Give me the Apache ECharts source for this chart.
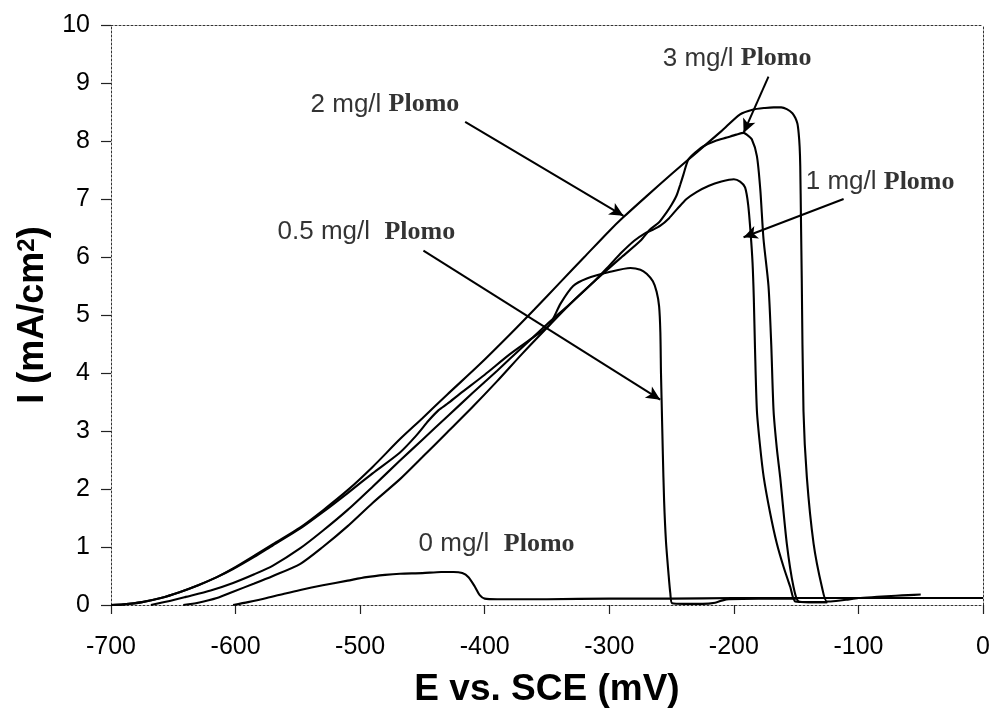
<!DOCTYPE html>
<html>
<head>
<meta charset="utf-8">
<title>Polarización anódica – Plomo</title>
<script src="https://cdn.jsdelivr.net/npm/echarts@6/dist/echarts.min.js"></script>
<style>
  html, body { margin: 0; padding: 0; background: #fff; }
  #chart { width: 994px; height: 713px; }
</style>
</head>
<body>
<div id="chart"></div>
<script>
// Potential (mV vs. SCE) and current density (mA/cm²) for each lead concentration
const E_0 = [-602, -590, -575, -560, -548, -530, -510, -495, -480, -468, -450, -435, -425, -418, -413, -408, -404, -400, -390, -350, -300, -250, -200, -150, -100, -50, 0];
const I_0 = [0, 0.05, 0.12, 0.2, 0.26, 0.34, 0.42, 0.48, 0.52, 0.54, 0.55, 0.57, 0.57, 0.55, 0.48, 0.32, 0.17, 0.11, 0.1, 0.1, 0.11, 0.11, 0.12, 0.12, 0.12, 0.12, 0.12];

const E_05 = [-700, -690, -675, -660, -645, -630, -615, -602, -585, -570, -548, -530, -510, -490, -468, -455, -445, -437, -430, -420, -400, -380, -360, -348, -339, -329, -318, -300, -283, -275, -270, -265, -262, -260, -259, -258.5, -258, -257, -256, -254.5, -252.5, -251, -249.5, -240, -225, -215, -209, -204, -180, -160, -150];
const I_05 = [0, 0.01, 0.05, 0.12, 0.22, 0.34, 0.48, 0.62, 0.83, 1.03, 1.32, 1.6, 1.93, 2.27, 2.63, 2.92, 3.18, 3.36, 3.47, 3.64, 3.97, 4.32, 4.63, 4.83, 5.2, 5.5, 5.63, 5.74, 5.81, 5.78, 5.71, 5.58, 5.4, 5.15, 4.7, 4.0, 3.54, 2.6, 1.8, 1.1, 0.55, 0.2, 0.03, 0.02, 0.02, 0.04, 0.08, 0.1, 0.11, 0.11, 0.11];

const E_1 = [-668, -655, -640, -620, -602, -585, -570, -548, -530, -510, -490, -468, -450, -430, -410, -390, -370, -350, -330, -312, -300, -290, -280, -272, -265, -259, -252, -245, -238, -230, -220, -210, -200, -195, -191, -188.5, -186.5, -185, -184, -183, -181.5, -179, -176, -171, -165.5, -160, -154.7, -150.7, -140, -125];
const I_1 = [0, 0.06, 0.14, 0.25, 0.38, 0.53, 0.68, 0.98, 1.28, 1.64, 2.04, 2.49, 2.85, 3.25, 3.65, 4.04, 4.44, 4.84, 5.22, 5.58, 5.85, 6.08, 6.28, 6.4, 6.47, 6.54, 6.67, 6.84, 7.0, 7.12, 7.23, 7.3, 7.34, 7.3, 7.2, 6.9, 6.4, 5.9, 5.3, 4.4, 3.35, 2.75, 2.2, 1.6, 1.06, 0.65, 0.31, 0.06, 0.05, 0.05];

const E_2 = [-700, -690, -675, -660, -645, -630, -615, -602, -585, -570, -548, -530, -510, -490, -468, -450, -430, -404, -380, -360, -340, -320, -300, -289, -270, -250, -230, -210, -195, -185, -175, -168, -162, -157.5, -153, -150.7, -149, -148, -147.2, -146.7, -146.1, -145.5, -144.1, -141.4, -136, -129.3, -125.3, -118, -110, -100, -85, -70, -60, -50];
const I_2 = [0, 0.01, 0.05, 0.12, 0.22, 0.34, 0.48, 0.63, 0.85, 1.05, 1.34, 1.63, 1.98, 2.38, 2.86, 3.22, 3.63, 4.15, 4.66, 5.1, 5.55, 6.0, 6.45, 6.68, 7.05, 7.43, 7.8, 8.17, 8.46, 8.54, 8.57, 8.58, 8.58, 8.55, 8.48, 8.4, 8.3, 8.14, 7.9, 7.57, 6.6, 5.63, 3.34, 2.2, 1.06, 0.31, 0.06, 0.07, 0.09, 0.12, 0.14, 0.16, 0.17, 0.18];

const E_3 = [-642, -630, -615, -602, -585, -570, -548, -530, -510, -490, -468, -450, -430, -410, -390, -370, -350, -330, -310, -290, -275, -267.5, -260, -254, -250, -246, -243, -240.5, -236.5, -230, -224.4, -215, -205.7, -198, -192.2, -189.6, -185.6, -181.5, -178.8, -176.2, -172.2, -170, -168.1, -165.5, -162.8, -157.5, -152.1, -148, -140, -125];
const I_3 = [0, 0.04, 0.12, 0.23, 0.37, 0.5, 0.71, 1.0, 1.36, 1.76, 2.17, 2.55, 2.98, 3.41, 3.86, 4.33, 4.78, 5.22, 5.62, 6.0, 6.28, 6.47, 6.6, 6.77, 6.9, 7.06, 7.25, 7.42, 7.68, 7.82, 7.91, 8.0, 8.06, 8.11, 8.14, 8.11, 8.03, 7.74, 7.17, 6.31, 5.5, 4.5, 3.34, 2.7, 2.2, 1.06, 0.31, 0.06, 0.05, 0.05];

// Axis ticks
const E_TICKS = [-700, -600, -500, -400, -300, -200, -100, 0];
const I_TICKS = [0, 1, 2, 3, 4, 5, 6, 7, 8, 9, 10];

// Curve annotations: label anchor (left edge), arrow start, arrow tip — all in data units
const LABEL_TEXT = ['0 mg/l', '0.5 mg/l', '1 mg/l', '2 mg/l', '3 mg/l'];
const LABEL_GAP = ['  ', '  ', ' ', ' ', ' '];
const LABEL_AT = [[-453.5, 1.05], [-566.7, 6.43], [-142.7, 7.29], [-540.2, 8.63], [-257.5, 9.42]];
const ARROW_FROM = [null, [-449.2, 6.11], [-111.9, 7.0], [-415.7, 8.33], [-172.2, 9.11]];
const ARROW_TO = [null, [-259.1, 3.54], [-192.2, 6.34], [-288.6, 6.71], [-192.2, 8.14]];

const curves = [[E_0, I_0], [E_05, I_05], [E_1, I_1], [E_2, I_2], [E_3, I_3]];

const chart = echarts.init(document.getElementById('chart'), null, { renderer: 'canvas' });

const sans = '"Liberation Sans", Arial, Helvetica, sans-serif';
const serif = '"Liberation Serif", "Times New Roman", serif';
const borderLine = { show: true, onZero: false, lineStyle: { color: '#333', width: 1, type: [2, 2] } };

const lineSeries = curves.map(([E, I], k) => ({
  name: LABEL_TEXT[k],
  type: 'line',
  xAxisIndex: 0,
  yAxisIndex: 0,
  data: E.map((e, i) => [e, I[i]]),
  showSymbol: false,
  smooth: 0.25,
  lineStyle: { color: '#000', width: 2.1 },
  emphasis: { disabled: true },
  silent: true,
  z: 3
}));

const annotSeries = {
  type: 'scatter',
  xAxisIndex: 0,
  yAxisIndex: 0,
  symbolSize: 1,
  itemStyle: { color: 'transparent' },
  silent: true,
  data: LABEL_AT.map((p, k) => ({
    value: p,
    label: { formatter: '{a|' + LABEL_TEXT[k] + '}{a|' + LABEL_GAP[k] + '}{b|Plomo}' }
  })),
  label: {
    show: true,
    position: 'right',
    distance: 0,
    rich: {
      a: { fontFamily: sans, fontSize: 26, color: '#000' },
      b: { fontFamily: serif, fontSize: 26, fontWeight: 'bold', color: '#000' }
    }
  },
  markLine: {
    silent: true,
    animation: false,
    symbol: ['none', 'arrow'],
    symbolSize: [10, 14],
    label: { show: false },
    lineStyle: { color: '#000', width: 2, type: 'solid' },
    data: ARROW_FROM.map((f, k) => f ? [{ coord: f }, { coord: ARROW_TO[k] }] : null).filter(Boolean)
  },
  z: 5
};

chart.setOption({
  animation: false,
  backgroundColor: '#fff',
  grid: { left: 111, right: 11, top: 25, bottom: 105, containLabel: false },
  xAxis: [{
    type: 'value',
    min: E_TICKS[0],
    max: E_TICKS[E_TICKS.length - 1],
    interval: 100,
    name: 'E vs. SCE (mV)',
    nameLocation: 'middle',
    nameGap: 66,
    nameTextStyle: { fontFamily: sans, fontSize: 37, fontWeight: 'bold', color: '#000' },
    axisLine: borderLine,
    axisTick: { show: true, inside: false, length: 9, lineStyle: { color: '#222', width: 1.2 } },
    axisLabel: { margin: 30, fontFamily: sans, fontSize: 25, color: '#000' },
    splitLine: { show: false }
  }, {
    type: 'value',
    position: 'top',
    min: E_TICKS[0],
    max: E_TICKS[E_TICKS.length - 1],
    axisLine: borderLine,
    axisTick: { show: false },
    axisLabel: { show: false },
    splitLine: { show: false }
  }],
  yAxis: [{
    type: 'value',
    min: I_TICKS[0],
    max: I_TICKS[I_TICKS.length - 1],
    interval: 1,
    name: '{t|I (mA/cm}{s|2}{t|)}',
    nameLocation: 'middle',
    nameRotate: 90,
    nameGap: 53,
    nameTextStyle: {
      rich: {
        t: { fontFamily: sans, fontSize: 36, fontWeight: 'bold', color: '#000' },
        s: { fontFamily: sans, fontSize: 24, fontWeight: 'bold', color: '#000', verticalAlign: 'top' }
      }
    },
    axisLine: borderLine,
    axisTick: { show: true, inside: false, length: 10, lineStyle: { color: '#222', width: 1.2 } },
    axisLabel: { margin: 21, fontFamily: sans, fontSize: 25, color: '#000' },
    splitLine: { show: false }
  }, {
    type: 'value',
    position: 'right',
    min: I_TICKS[0],
    max: I_TICKS[I_TICKS.length - 1],
    axisLine: borderLine,
    axisTick: { show: false },
    axisLabel: { show: false },
    splitLine: { show: false }
  }],
  series: [...lineSeries, annotSeries]
});
</script>
</body>
</html>
